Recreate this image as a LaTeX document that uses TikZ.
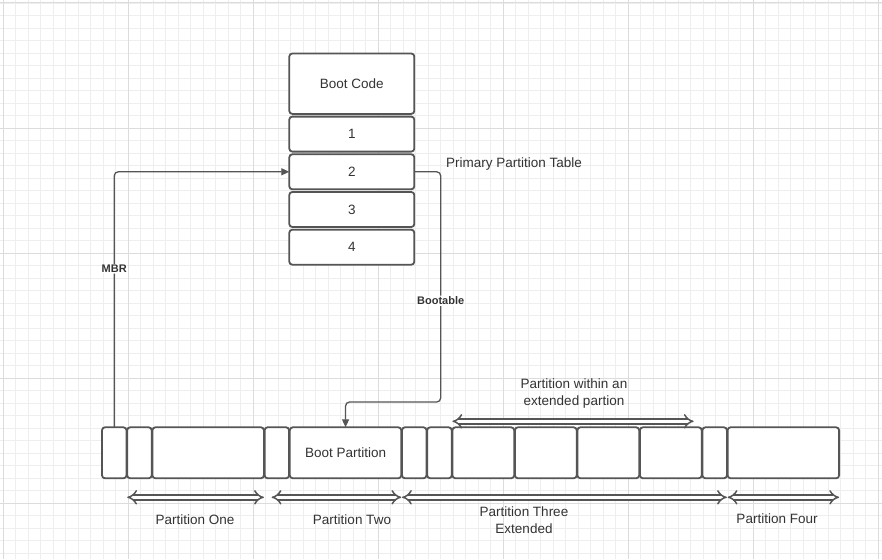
\documentclass[tikz,border=0pt]{standalone}
\usepackage{fontspec}
\setmainfont{Liberation Sans}
\usetikzlibrary{positioning, arrows.meta}
\definecolor{edge}{HTML}{555555}
\definecolor{ink}{HTML}{333333}
\definecolor{gridminor}{HTML}{EEEEEE}
\definecolor{gridmajor}{HTML}{DCDCDC}
\tikzset{
    entry/.style = {
        rectangle, draw=edge, line width=1.8pt,
        rounded corners=3pt, fill=white,
        minimum width=125pt, minimum height=35pt,
        inner sep=0pt, outer sep=0pt, text=ink,
        font=\fontsize{13.5}{16.5}\selectfont
    },
    bootcode/.style = {
        entry, minimum height=60.4pt
    },
    sector/.style = {
        rectangle, draw=edge, line width=1.8pt,
        rounded corners=3pt, fill=white,
        minimum height=51pt, inner sep=0pt, outer sep=0pt, text=ink,
        font=\fontsize{13.5}{16.5}\selectfont
    },
    slot/.style = {sector, minimum width=24.5pt},
    logical/.style = {sector, minimum width=61.8pt},
    part/.style = {sector, minimum width=111.5pt},
    link/.style = {
        draw=edge, line width=1.3pt, rounded corners=4pt,
        -{Triangle[length=8pt,width=7pt]}
    },
    tag/.style = {
        fill=white, inner sep=1pt, text=ink,
        font=\fontsize{11}{13}\selectfont\bfseries
    },
    span/.style = {
        draw=edge, line width=1.5pt, double=white,
        double distance=3.4pt, {Implies[length=4.5pt]}-{Implies[length=4.5pt]}
    },
    caption/.style = {
        text=ink, align=center, inner sep=0pt,
        font=\fontsize{13.5}{16.5}\selectfont
    }
}

\begin{document}
\begin{tikzpicture}[x=1pt, y=-1pt]

\useasboundingbox[fill=white] (0,0) rectangle (882,559);

% background grid
\foreach \k in {0,...,70}
    \draw[gridminor, line width=0.8pt] (3+12.5*\k,0) -- (3+12.5*\k,559);
\foreach \k in {0,...,44}
    \draw[gridminor, line width=0.8pt] (0,3+12.5*\k) -- (882,3+12.5*\k);
\foreach \k in {0,...,7}
    \draw[gridmajor, line width=1pt] (3+125*\k,0) -- (3+125*\k,559);
\foreach \k in {0,...,4}
    \draw[gridmajor, line width=1pt] (0,3+125*\k) -- (882,3+125*\k);

% master boot record
\node (boot) [bootcode] at (351.8,83.7) {Boot Code};
\node (one) [entry, below=2.7pt of boot] {1};
\node (two) [entry, below=2.7pt of one] {2};
\node (three) [entry, below=2.7pt of two] {3};
\node (four) [entry, below=2.7pt of three] {4};

% disk layout
\node (c1) [slot] at (114.25,452.8) {};
\node (c2) [slot, right=0.7pt of c1] {};
\node (c3) [part, right=0.7pt of c2] {};
\node (c4) [slot, right=0.7pt of c3] {};
\node (c5) [part, right=0.7pt of c4] {Boot Partition};
\node (c6) [slot, right=0.7pt of c5] {};
\node (c7) [slot, right=0.7pt of c6] {};
\node (c8) [logical, right=0.7pt of c7] {};
\node (c9) [logical, right=0.7pt of c8] {};
\node (c10) [logical, right=0.7pt of c9] {};
\node (c11) [logical, right=0.7pt of c10] {};
\node (c12) [slot, right=0.7pt of c11] {};
\node (c13) [part, right=0.7pt of c12] {};

\coordinate (turn) at (440.7,402);

\draw[link] (c1.north) |- node[tag, pos=0.31] {MBR} (two.west);
\draw[link] (two.east) -| node[tag, pos=0.78] {Bootable} (turn) -| (c5.north);

% partition spans
\draw[span] ([yshift=6pt]c8.north west) -- ([xshift=-8pt, yshift=6pt]c11.north east);
\draw[span] ([yshift=-19pt]c2.south west) -- ([yshift=-19pt]c3.south east);
\draw[span] ([xshift=7pt, yshift=-19pt]c4.south west) -- ([yshift=-19pt]c5.south east);
\draw[span] ([yshift=-19pt]c6.south west) -- ([yshift=-19pt]c12.south east);
\draw[span] ([yshift=-19pt]c13.south west) -- ([yshift=-19pt]c13.south east);

\node (ptable) [caption, anchor=west] at (446,164) {Primary Partition Table};
\node (within) [caption] at (574,393.5) {Partition within an\\extended partion};
\node (p1) [caption] at (195,520) {Partition One};
\node (p2) [caption] at (352,520) {Partition Two};
\node (p3) [caption] at (524,520) {Partition Three\\Extended};
\node (p4) [caption] at (777,519) {Partition Four};

\end{tikzpicture}
\end{document}
